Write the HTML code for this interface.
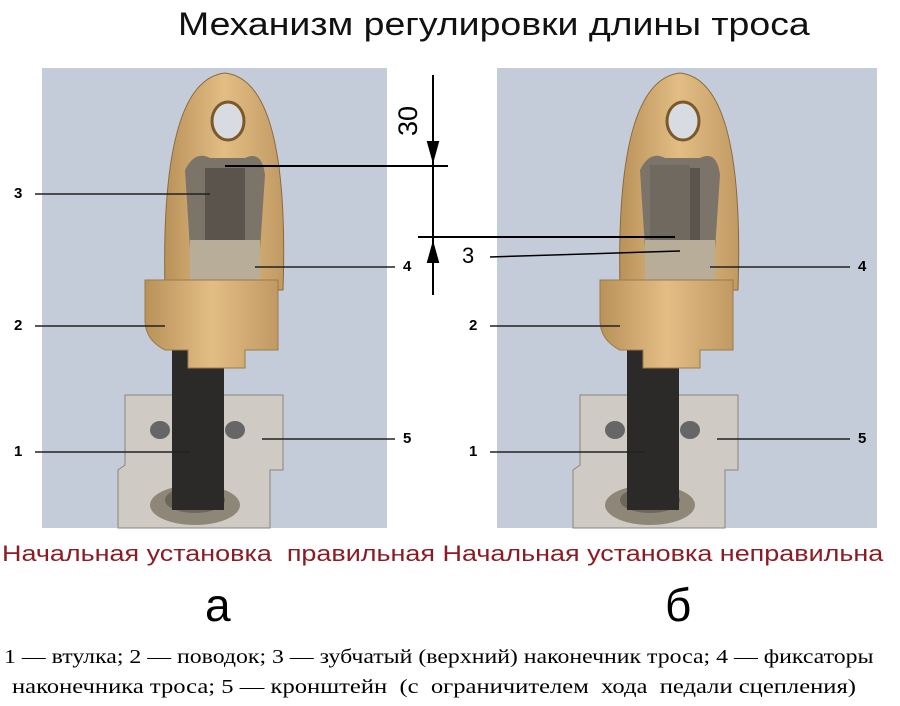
<!DOCTYPE html>
<html><head><meta charset="utf-8"><style>
body{margin:0;width:900px;height:706px;background:#fff;overflow:hidden;position:relative;font-family:"Liberation Sans",sans-serif}
.t{position:absolute;white-space:nowrap;transform-origin:left top}
</style></head><body>
<svg width="900" height="706" style="position:absolute;left:0;top:0">
<defs>
<linearGradient id="br" x1="0" x2="1"><stop offset="0" stop-color="#b9925a"/><stop offset=".5" stop-color="#e2bd84"/><stop offset="1" stop-color="#c09a62"/></linearGradient>
</defs>
<rect x="42" y="68" width="345" height="460" fill="#c5ccd9"/>
<rect x="497" y="68" width="380" height="460" fill="#c5ccd9"/>
<g id="mech">
<path d="M125 395 L283 395 L283 470 L270 470 L270 528 L118 528 L118 470 L125 465 Z" fill="#cfcbc4" stroke="#8a857d"/>
<ellipse cx="160" cy="430" rx="10" ry="9" fill="#666"/><ellipse cx="235" cy="430" rx="10" ry="9" fill="#666"/>
<ellipse cx="195" cy="505" rx="45" ry="20" fill="#8e8778"/><ellipse cx="195" cy="500" rx="30" ry="13" fill="#6d6759"/>
<rect x="172" y="350" width="52" height="160" fill="#2b2a28"/>
<path d="M165 290 Q160 80 225 73 Q290 80 283 290 Z" fill="url(#br)" stroke="#8a6a3a"/>
<ellipse cx="228" cy="121" rx="16" ry="19" fill="#d9dbe3" stroke="#7a5a2a" stroke-width="3"/>
<path d="M185 170 Q195 150 210 158 L245 158 Q262 150 265 175 L258 280 L192 280 Z" fill="#7c7468"/>
<rect x="205" y="168" width="40" height="100" fill="#5a544c"/>
<rect x="190" y="240" width="70" height="40" fill="#b7ad98"/>
<path d="M145 280 L278 280 L278 350 L245 350 L245 368 L188 368 L188 350 L165 350 Q145 340 145 320 Z" fill="url(#br)" stroke="#9a7a4a"/>
</g>
<use href="#mech" transform="translate(455,0)"/>
<rect x="650" y="165" width="40" height="75" fill="#6f6960"/>
<g stroke="#000" stroke-width="2" fill="#000">
<line x1="433" y1="75" x2="433" y2="295"/>
<line x1="225" y1="166" x2="448" y2="166"/>
<line x1="418" y1="237" x2="675" y2="237"/>
<line x1="490" y1="257" x2="680" y2="251" stroke-width="1.5"/>
<path d="M428 142 L438 142 L433 160 Z"/><path d="M428 262 L438 262 L433 244 Z"/>
</g>
<g stroke="#222" stroke-width="1.5">
<line x1="35" y1="194" x2="210" y2="194"/><line x1="35" y1="326" x2="165" y2="326"/><line x1="35" y1="452" x2="190" y2="452"/>
<line x1="255" y1="267" x2="395" y2="267"/><line x1="262" y1="439" x2="395" y2="439"/>
<line x1="490" y1="326" x2="620" y2="326"/><line x1="490" y1="452" x2="645" y2="452"/>
<line x1="710" y1="267" x2="850" y2="267"/><line x1="717" y1="439" x2="850" y2="439"/>
</g>
<text x="0" y="0" transform="translate(417,136) rotate(-90)" font-family="Liberation Sans" font-size="27">30</text>
</svg>
<div class="t" style="left:178px;top:6px;font-size:32px;color:#111;transform:scaleX(1.17)">Механизм регулировки длины троса</div>
<div class="t" style="left:462px;top:243px;font-size:22px">3</div>
<div class="t" style="left:14px;top:185px;font-size:15px;font-weight:bold">3</div>
<div class="t" style="left:14px;top:317px;font-size:15px;font-weight:bold">2</div>
<div class="t" style="left:14px;top:443px;font-size:15px;font-weight:bold">1</div>
<div class="t" style="left:403px;top:258px;font-size:15px;font-weight:bold">4</div>
<div class="t" style="left:403px;top:430px;font-size:15px;font-weight:bold">5</div>
<div class="t" style="left:469px;top:317px;font-size:15px;font-weight:bold">2</div>
<div class="t" style="left:469px;top:443px;font-size:15px;font-weight:bold">1</div>
<div class="t" style="left:858px;top:258px;font-size:15px;font-weight:bold">4</div>
<div class="t" style="left:858px;top:430px;font-size:15px;font-weight:bold">5</div>
<div class="t" style="left:2px;top:541px;font-size:22px;color:#8b1c24;transform:scaleX(1.225)">Начальная установка&nbsp; правильная Начальная установка неправильна</div>
<div class="t" style="left:205px;top:578px;font-size:46px">а</div>
<div class="t" style="left:665px;top:578px;font-size:46px">б</div>
<div class="t" style="left:4px;top:646px;font-size:20px;font-family:'Liberation Serif',serif;transform:scaleX(1.19)">1 — втулка; 2 — поводок; 3 — зубчатый (верхний) наконечник троса; 4 — фиксаторы</div>
<div class="t" style="left:12px;top:676px;font-size:20px;font-family:'Liberation Serif',serif;transform:scaleX(1.23)">наконечника троса; 5 — кронштейн &nbsp;(с &nbsp;ограничителем &nbsp;хода &nbsp;педали сцепления)</div>
</body></html>
